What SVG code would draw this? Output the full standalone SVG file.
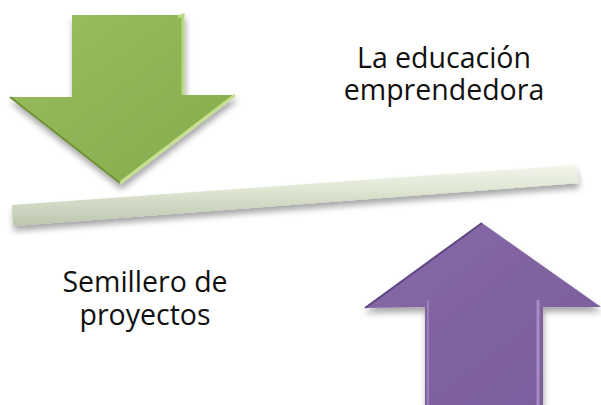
<svg xmlns="http://www.w3.org/2000/svg" width="601" height="405" viewBox="0 0 601 405">
<defs>
<linearGradient id="gGreen" x1="0" y1="0" x2="1" y2="1">
<stop offset="0" stop-color="#9cbf5e"/><stop offset="0.5" stop-color="#8fb454"/><stop offset="1" stop-color="#86ab4a"/>
</linearGradient>
<linearGradient id="gPurple" x1="0" y1="0" x2="1" y2="1">
<stop offset="0" stop-color="#8669a6"/><stop offset="1" stop-color="#7a5d9c"/>
</linearGradient>
<linearGradient id="gBar" x1="0" y1="0" x2="0" y2="1">
<stop offset="0" stop-color="#f2f5ec"/><stop offset="0.35" stop-color="#e2e9d6"/><stop offset="1" stop-color="#bcc6ae"/>
</linearGradient>
<filter id="shadow" x="-20%" y="-20%" width="140%" height="150%">
<feGaussianBlur in="SourceAlpha" stdDeviation="3"/>
<feOffset dx="1" dy="5" result="b"/>
<feComponentTransfer><feFuncA type="linear" slope="0.35"/></feComponentTransfer>
<feMerge><feMergeNode/><feMergeNode in="SourceGraphic"/></feMerge>
</filter>
<style>
.lbl{font-family:"Open Sans","Liberation Sans",sans-serif;font-size:28.5px;fill:#111;text-anchor:middle}
</style>
</defs>
<g id="green-arrow" filter="url(#shadow)">
<polygon points="72,15 183,15 183,95 235,95 120,183 10,97 72,97" fill="url(#gGreen)"/>
<polyline points="178,17 183,15 183,95" fill="none" stroke="#b8d884" stroke-width="3"/>
<polyline points="235,95 120,183" fill="none" stroke="#c4e08e" stroke-width="3"/>
<polyline points="10,97 120,183" fill="none" stroke="#6f8f3a" stroke-width="2"/>
</g>
<g id="bar" filter="url(#shadow)">
<polygon points="12,205 575,165 579,183 13,226" fill="url(#gBar)"/>
</g>
<g id="purple-arrow" filter="url(#shadow)">
<polygon points="482,223 601,307 543,307 543,405 425,405 425,307 365,308" fill="url(#gPurple)"/>
<line x1="365" y1="308" x2="482" y2="223" stroke="#5e4580" stroke-width="2"/>
<line x1="538" y1="300" x2="538" y2="405" stroke="#a58cc4" stroke-width="3"/>
<line x1="428" y1="300" x2="428" y2="405" stroke="#9a80bb" stroke-width="2"/>
</g>
<g id="text-top">
<text class="lbl" x="444" y="68">La educación</text>
<text class="lbl" x="444" y="100">emprendedora</text>
</g>
<g id="text-bottom">
<text class="lbl" x="145" y="292">Semillero de</text>
<text class="lbl" x="145" y="325">proyectos</text>
</g>
</svg>
